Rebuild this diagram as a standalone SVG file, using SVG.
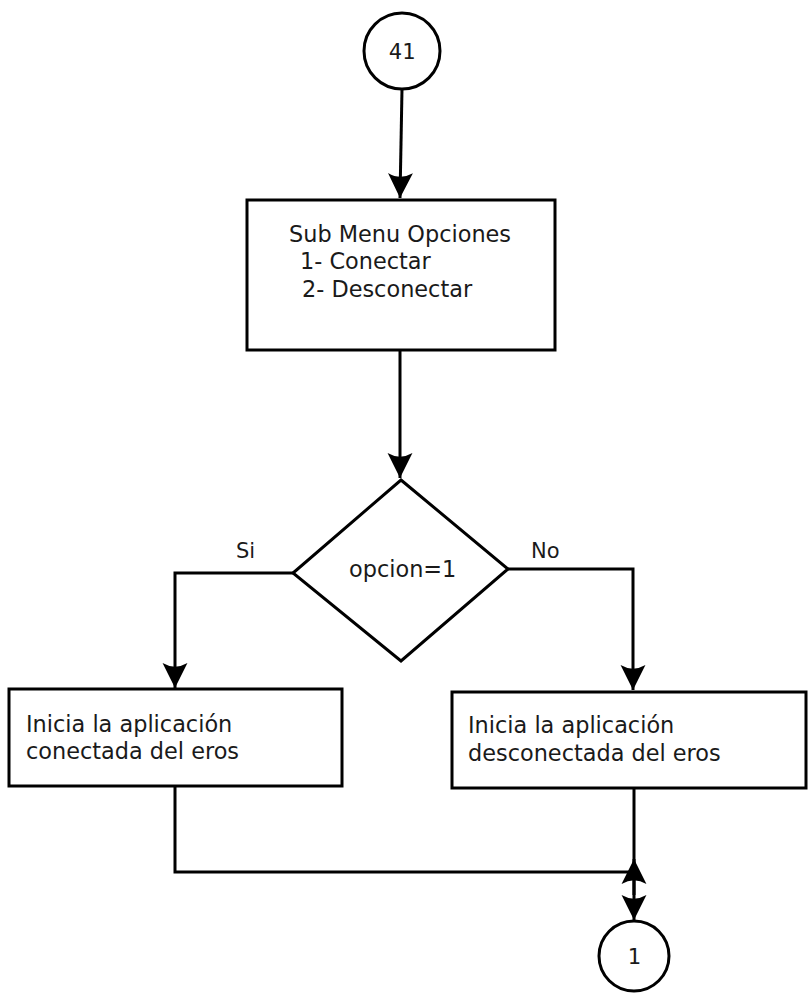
<svg xmlns="http://www.w3.org/2000/svg" width="808" height="994" viewBox="0 0 808 994">
  <style>
    .shape { fill: #ffffff; stroke: #000000; stroke-width: 3; }
    .wire { fill: none; stroke: #000000; stroke-width: 3; }
    .txt { font-family: "DejaVu Sans", "Liberation Sans", sans-serif; font-size: 22.4px; fill: #1a1a1a; }
    .lbl { font-family: "DejaVu Sans", "Liberation Sans", sans-serif; font-size: 21px; fill: #1a1a1a; }
    .mono { font-family: "DejaVu Sans Mono", "Liberation Mono", monospace; font-size: 22px; fill: #1a1a1a; text-anchor: middle; }
  </style>
  <defs>
    <marker id="arrow" markerUnits="userSpaceOnUse" markerWidth="28" markerHeight="28" viewBox="-25 -13 27 26" refX="0" refY="0" orient="auto">
      <path d="M0,0 L-24,-12 Q-17,0 -24,12 Z" fill="#000000"/>
    </marker>
  </defs>

  <!-- connectors -->
  <g id="connectors">
    <line class="wire" x1="402" y1="89" x2="400" y2="198" marker-end="url(#arrow)"/>
    <line class="wire" x1="400" y1="351" x2="400" y2="478" marker-end="url(#arrow)"/>
    <polyline class="wire" points="293,573 175,573 175,688" marker-end="url(#arrow)"/>
    <polyline class="wire" points="508,569 633,569 633,690" marker-end="url(#arrow)"/>
    <polyline class="wire" points="175,786 175,872 634,872"/>
    <line class="wire" x1="634" y1="788" x2="634" y2="920" marker-end="url(#arrow)"/>
    <line class="wire" x1="634" y1="895" x2="634" y2="859" marker-end="url(#arrow)"/>
    <text class="lbl" x="236" y="558">Si</text>
    <text class="lbl" x="531" y="558">No</text>
  </g>

  <!-- start connector 41 -->
  <g id="node-41">
    <circle class="shape" cx="402" cy="51" r="38"/>
    <text class="mono" x="402" y="59">41</text>
  </g>

  <!-- submenu process -->
  <g id="node-submenu">
    <rect class="shape" x="247" y="200" width="308" height="150"/>
    <text class="txt" x="289" y="242">Sub Menu Opciones</text>
    <text class="txt" x="300" y="269">1- Conectar</text>
    <text class="txt" x="302" y="297">2- Desconectar</text>
  </g>

  <!-- decision -->
  <g id="node-decision">
    <polygon class="shape" points="401,480 508,569 401,661 293,573"/>
    <text class="txt" x="349" y="577">opcion=1</text>
  </g>

  <!-- connected branch -->
  <g id="node-conectada">
    <rect class="shape" x="9" y="689" width="333" height="97"/>
    <text class="txt" x="26" y="732">Inicia la aplicación</text>
    <text class="txt" x="26" y="759">conectada del eros</text>
  </g>

  <!-- disconnected branch -->
  <g id="node-desconectada">
    <rect class="shape" x="452" y="692" width="354" height="96"/>
    <text class="txt" x="468" y="733">Inicia la aplicación</text>
    <text class="txt" x="468" y="761">desconectada del eros</text>
  </g>

  <!-- end connector 1 -->
  <g id="node-1">
    <circle class="shape" cx="634" cy="956" r="35"/>
    <text class="mono" x="634" y="964">1</text>
  </g>
</svg>
